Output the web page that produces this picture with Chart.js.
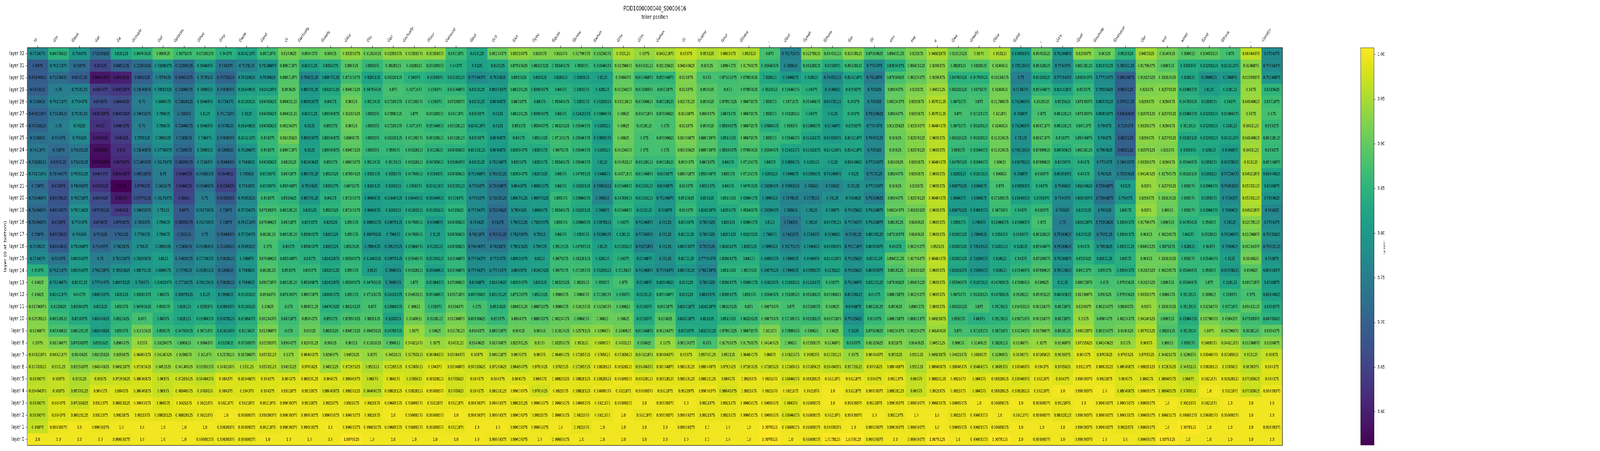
<!DOCTYPE html>
<html>
<head>
<meta charset="utf-8">
<script src="https://cdn.jsdelivr.net/npm/chart.js"></script>
<style>
html, body { margin: 0; padding: 0; background: #ffffff; overflow: hidden; }
#wrap { position: absolute; left: 0; top: 0; width: 6000px; height: 1155px; transform-origin: 0 0; }
#main { position: absolute; left: 0; top: 0; }
#cbar { position: absolute; left: 5000px; top: 0; }
</style>
</head>
<body>
<div id="wrap">
  <canvas id="main" width="6000" height="1155"></canvas>
  <canvas id="cbar" width="260" height="1155"></canvas>
</div>
<script>
// ---------------- DATA ----------------
const chartTitle = 'POD1000000040_S0000616';
const xTitle = 'token position';
const yTitle = 'layer (0 at bottom)';
const colorbarTitle = 'score';

const tokens = ['to','Ġto','Ġlook','Ġat','Ġa','Ġcouple','Ġof','Ġplaces','Ġthat','Ġmy',
  'Ġwife','Ġand','Ġi','Ġactually','Ġreally','Ġlike','Ġto','Ġgo','Ġactually','Ġtour',
  'Ġaround','Ġbut',"Ġi'll",'Ġlet','Ġyou','Ġguys','Ġknow','Ġwhen',"Ġi'm","Ġi'm",
  'Ġwhen','Ġi','Ġcome','Ġout','Ġthere',',','Ġbut','Ġyeah','Ġthere','Ġin',
  'Ġt','enn','ese','e','Ġwe','Ġreally','Ġlike','Ġalot',',',"Ġit's",
  'Ġjust','Ġoutside','Ġnational','Ġbr','ent','wood','Ġand','Ġfrank',',','<|end|>'];

const layerNames = ['layer 0','layer 1','layer 2','layer 3','layer 4','layer 5','layer 6','layer 7',
  'layer 8','layer 9','layer 10','layer 11','layer 12','layer 13','layer 14','layer 15','layer 16',
  'layer 17','layer 18','layer 19','layer 20','layer 21','layer 22','layer 23','layer 24','layer 25',
  'layer 26','layer 27','layer 28','layer 29','layer 30','layer 31','layer 32'];

const colorbarTicks = [0.60, 0.65, 0.70, 0.75, 0.80, 0.85, 0.90, 0.95, 1.00];

const layer32 = [0.7734375,0.84765625,0.796875,0.72265625,0.828125,0.84765625,0.890625,0.8671875,0.87109375,0.84375,0.82421875,0.8671875,0.9140625,0.8984375,0.90625,0.93359375,0.91015625,0.93359375,0.93359375,0.93359375,
  0.8671875,0.828125,0.90234375,0.93359375,0.921875,0.921875,0.91796875,0.90234375,0.953125,0.9375,0.94921875,0.96875,0.953125,0.9609375,0.953125,0.875,0.76171875,0.92578125,0.89453125,0.92578125,
  0.87890625,0.89453125,0.921875,0.94921875,0.91015625,0.9375,0.953125,0.80859375,0.89453125,0.79296875,0.9296875,0.90625,0.8515625,0.9453125,0.9140625,0.890625,0.89453125,0.875,0.96484375,0.7734375];
const layer31 = [0.6875,0.76171875,0.71875,0.65625,0.6953125,0.72265625,0.79296875,0.72265625,0.8046875,0.734375,0.7578125,0.79296875,0.88671875,0.8203125,0.8359375,0.890625,0.859375,0.8828125,0.8828125,0.87109375,
  0.84375,0.8125,0.828125,0.87890625,0.86328125,0.85546875,0.859375,0.85546875,0.91796875,0.89453125,0.91015625,0.94140625,0.90625,0.8984375,0.91796875,0.85546875,0.765625,0.86328125,0.8359375,0.86328125,
  0.7734375,0.83984375,0.89453125,0.9296875,0.8828125,0.8828125,0.9140625,0.78515625,0.86328125,0.7734375,0.86328125,0.83203125,0.76953125,0.91796875,0.890625,0.8359375,0.83203125,0.82421875,0.9296875,0.77734375];
const layer30 = [0.69140625,0.72265625,0.6953125,0.58984375,0.6015625,0.6953125,0.7578125,0.69921875,0.7578125,0.70703125,0.78515625,0.7890625,0.88671875,0.76953125,0.80078125,0.87109375,0.8203125,0.86328125,0.84375,0.8359375,
  0.83203125,0.77734375,0.7890625,0.8515625,0.828125,0.828125,0.8203125,0.8125,0.8984375,0.85546875,0.85546875,0.921875,0.875,0.87109375,0.87890625,0.828125,0.8046875,0.828125,0.76953125,0.82421875,
  0.7421875,0.87890625,0.90234375,0.9296875,0.84765625,0.84765625,0.90234375,0.75,0.83203125,0.77734375,0.83984375,0.77734375,0.69921875,0.91015625,0.91015625,0.828125,0.7890625,0.796875,0.93359375,0.79296875];
const layer29 = [0.6953125,0.75,0.7578125,0.6484375,0.63671875,0.73046875,0.78515625,0.73046875,0.7890625,0.74609375,0.81640625,0.82421875,0.890625,0.80078125,0.83203125,0.89453125,0.84765625,0.875,0.8671875,0.859375,
  0.85546875,0.8203125,0.80859375,0.86328125,0.83984375,0.84375,0.8359375,0.828125,0.90234375,0.87109375,0.8671875,0.921875,0.890625,0.875,0.87890625,0.8515625,0.85546875,0.84375,0.7890625,0.8359375,
  0.765625,0.8984375,0.921875,0.9453125,0.86328125,0.8671875,0.9140625,0.7734375,0.85546875,0.82421875,0.859375,0.78515625,0.6953125,0.921875,0.92578125,0.83984375,0.8125,0.828125,0.9375,0.8515625];
const layer28 = [0.7265625,0.76171875,0.7734375,0.671875,0.6640625,0.75,0.8046875,0.73828125,0.8046875,0.7734375,0.83203125,0.84765625,0.89453125,0.80859375,0.84375,0.90625,0.8515625,0.87109375,0.87109375,0.859375,
  0.87109375,0.8203125,0.8046875,0.8671875,0.84375,0.85546875,0.8359375,0.83203125,0.91015625,0.87890625,0.86328125,0.92578125,0.890625,0.87890625,0.88671875,0.859375,0.8671875,0.85546875,0.80078125,0.84375,
  0.765625,0.90234375,0.9296875,0.95703125,0.8671875,0.875,0.91796875,0.79296875,0.8828125,0.8515625,0.87109375,0.80078125,0.70703125,0.9296875,0.9296875,0.84765625,0.8359375,0.84375,0.94140625,0.8671875];
const layer27 = [0.69921875,0.73828125,0.7578125,0.63671875,0.66015625,0.74609375,0.796875,0.734375,0.8125,0.76171875,0.8125,0.84765625,0.89453125,0.8203125,0.85546875,0.91015625,0.859375,0.87890625,0.875,0.87109375,
  0.8671875,0.8359375,0.8125,0.86328125,0.83984375,0.84375,0.82421875,0.83984375,0.90625,0.88671875,0.87890625,0.9296875,0.8984375,0.8671875,0.88671875,0.859375,0.86328125,0.84375,0.8125,0.84375,
  0.75390625,0.8984375,0.9296875,0.95703125,0.875,0.87109375,0.921875,0.796875,0.875,0.86328125,0.87109375,0.80859375,0.69140625,0.92578125,0.92578125,0.83984375,0.83203125,0.83984375,0.9375,0.875];
const layer26 = [0.70703125,0.75,0.78125,0.625,0.6484375,0.75,0.796875,0.73046875,0.8046875,0.7578125,0.81640625,0.84765625,0.90234375,0.8125,0.859375,0.90625,0.859375,0.87109375,0.8671875,0.85546875,
  0.86328125,0.82421875,0.8125,0.859375,0.85546875,0.86328125,0.85546875,0.8203125,0.90625,0.8828125,0.875,0.921875,0.890625,0.85546875,0.88671875,0.83984375,0.859375,0.83984375,0.8046875,0.8359375,
  0.7734375,0.91015625,0.93359375,0.96484375,0.8671875,0.86328125,0.9140625,0.79296875,0.88671875,0.86328125,0.8671875,0.796875,0.7109375,0.93359375,0.9296875,0.8515625,0.83203125,0.828125,0.9453125,0.859375];
const layer25 = [0.7265625,0.734375,0.765625,0.6015625,0.640625,0.7578125,0.7890625,0.7265625,0.796875,0.74609375,0.82421875,0.859375,0.91015625,0.80859375,0.85546875,0.8984375,0.859375,0.86328125,0.87109375,0.86328125,
  0.86328125,0.8359375,0.8046875,0.84375,0.8515625,0.87109375,0.85546875,0.80859375,0.90625,0.875,0.87890625,0.91796875,0.88671875,0.8515625,0.88671875,0.859375,0.85546875,0.82421875,0.80859375,0.82421875,
  0.76953125,0.90625,0.92578125,0.9609375,0.86328125,0.86328125,0.91015625,0.78125,0.88671875,0.859375,0.85546875,0.796875,0.6953125,0.9296875,0.92578125,0.83203125,0.83203125,0.82421875,0.94140625,0.86328125];
const layer24 = [0.7421875,0.71875,0.73828125,0.578125,0.625,0.73046875,0.77734375,0.7109375,0.7890625,0.7265625,0.79296875,0.859375,0.88671875,0.8125,0.85546875,0.89453125,0.859375,0.859375,0.86328125,0.8515625,
  0.84765625,0.83203125,0.8046875,0.83984375,0.8359375,0.8671875,0.85546875,0.8203125,0.90234375,0.875,0.875,0.91015625,0.88671875,0.85546875,0.87890625,0.85546875,0.82421875,0.82421875,0.82421875,0.82421875,
  0.765625,0.90625,0.92578125,0.9609375,0.859375,0.85546875,0.91015625,0.78515625,0.87890625,0.84765625,0.86328125,0.7890625,0.6953125,0.92578125,0.921875,0.8359375,0.828125,0.8046875,0.9453125,0.859375];
const layer23 = [0.73828125,0.6953125,0.73828125,0.57421875,0.6171875,0.71484375,0.76171875,0.68359375,0.7734375,0.71484375,0.7890625,0.84765625,0.8828125,0.81640625,0.859375,0.88671875,0.8515625,0.8515625,0.86328125,0.84765625,
  0.83984375,0.8203125,0.79296875,0.8359375,0.8359375,0.85546875,0.85546875,0.8125,0.89453125,0.86328125,0.86328125,0.8984375,0.8671875,0.84375,0.87109375,0.84375,0.80859375,0.8203125,0.8125,0.81640625,
  0.77734375,0.9140625,0.9296875,0.96484375,0.84765625,0.85546875,0.90625,0.80078125,0.87890625,0.8359375,0.84375,0.7734375,0.74609375,0.93359375,0.9296875,0.85546875,0.8359375,0.80078125,0.953125,0.85546875];
const layer22 = [0.76171875,0.71484375,0.76953125,0.6484375,0.60546875,0.69921875,0.75,0.6484375,0.74609375,0.6640625,0.765625,0.8359375,0.8671875,0.80078125,0.8515625,0.87890625,0.8359375,0.8359375,0.84765625,0.8359375,
  0.84765625,0.79296875,0.76953125,0.83984375,0.8203125,0.84375,0.84765625,0.8046875,0.88671875,0.85546875,0.8359375,0.88671875,0.85546875,0.859375,0.87109375,0.8203125,0.8046875,0.80859375,0.79296875,0.8125,
  0.7578125,0.8984375,0.9296875,0.9609375,0.8203125,0.83203125,0.890625,0.796875,0.859375,0.80859375,0.84375,0.765625,0.75390625,0.94140625,0.91796875,0.86328125,0.8203125,0.77734375,0.94921875,0.81640625];
const layer21 = [0.71875,0.671875,0.74609375,0.6328125,0.5625,0.6796875,0.7421875,0.6484375,0.73046875,0.65234375,0.7734375,0.8359375,0.85546875,0.7890625,0.8359375,0.8671875,0.8203125,0.8203125,0.8359375,0.82421875,
  0.83203125,0.7734375,0.73046875,0.8046875,0.80859375,0.84375,0.83203125,0.76953125,0.85546875,0.83203125,0.8046875,0.859375,0.8359375,0.84375,0.84765625,0.79296875,0.76953125,0.765625,0.765625,0.78125,
  0.77734375,0.90625,0.921875,0.9609375,0.80078125,0.8046875,0.875,0.80859375,0.84375,0.7890625,0.81640625,0.73046875,0.8125,0.9375,0.92578125,0.859375,0.83984375,0.76953125,0.95703125,0.8046875];
const layer20 = [0.73046875,0.67578125,0.76171875,0.6640625,0.59375,0.67578125,0.76171875,0.65625,0.75,0.68359375,0.76953125,0.859375,0.8515625,0.80078125,0.84375,0.87109375,0.8046875,0.81640625,0.81640625,0.81640625,
  0.8359375,0.7734375,0.73828125,0.80078125,0.80078125,0.859375,0.83984375,0.765625,0.84765625,0.83203125,0.79296875,0.8515625,0.828125,0.8515625,0.83984375,0.7890625,0.7578125,0.7578125,0.78125,0.7890625,
  0.75390625,0.8984375,0.92578125,0.96484375,0.8046875,0.8046875,0.87109375,0.81640625,0.8359375,0.7734375,0.80859375,0.73046875,0.796875,0.9296875,0.91015625,0.859375,0.8359375,0.7734375,0.95703125,0.7890625];
const layer19 = [0.71484375,0.68359375,0.78515625,0.67578125,0.640625,0.74609375,0.78125,0.6875,0.76171875,0.71875,0.77734375,0.87109375,0.86328125,0.828125,0.8515625,0.87109375,0.8046875,0.8203125,0.83203125,0.83203125,
  0.8515625,0.77734375,0.72265625,0.7890625,0.8046875,0.85546875,0.83203125,0.796875,0.85546875,0.8203125,0.796875,0.859375,0.82421875,0.8359375,0.85546875,0.79296875,0.765625,0.78125,0.796875,0.78515625,
  0.79296875,0.90234375,0.91015625,0.9609375,0.80078125,0.80859375,0.8671875,0.84375,0.859375,0.765625,0.8203125,0.765625,0.84375,0.9375,0.90625,0.859375,0.83984375,0.7890625,0.94921875,0.765625];
const layer18 = [0.71484375,0.671875,0.7734375,0.671875,0.6796875,0.7421875,0.796875,0.68359375,0.76171875,0.71875,0.76171875,0.87890625,0.8671875,0.8359375,0.828125,0.859375,0.80859375,0.80078125,0.84765625,0.8046875,
  0.84765625,0.765625,0.71875,0.76953125,0.79296875,0.859375,0.83984375,0.80078125,0.84375,0.79296875,0.78125,0.8359375,0.7890625,0.828125,0.83984375,0.8125,0.734375,0.78125,0.80078125,0.77734375,
  0.79296875,0.8828125,0.9140625,0.9609375,0.8359375,0.796875,0.83984375,0.83984375,0.875,0.75,0.82421875,0.75390625,0.83984375,0.91796875,0.890625,0.84765625,0.859375,0.78125,0.92578125,0.7734375];
const layer17 = [0.71875,0.67578125,0.765625,0.703125,0.703125,0.7734375,0.796875,0.703125,0.75,0.71484375,0.77734375,0.8828125,0.86328125,0.83984375,0.8203125,0.859375,0.80078125,0.796875,0.84765625,0.8125,
  0.84765625,0.7421875,0.70703125,0.76171875,0.78125,0.84375,0.8359375,0.79296875,0.828125,0.77734375,0.78125,0.8203125,0.7890625,0.8203125,0.83203125,0.796875,0.7421875,0.7734375,0.7890625,0.7578125,
  0.80078125,0.87109375,0.9140625,0.9609375,0.83203125,0.7890625,0.8359375,0.8359375,0.86328125,0.75390625,0.8203125,0.7578125,0.83984375,0.90625,0.90234375,0.84375,0.8515625,0.79296875,0.91796875,0.78515625];
const layer16 = [0.7578125,0.69140625,0.79296875,0.7109375,0.7421875,0.78125,0.7890625,0.7265625,0.75390625,0.72265625,0.76953125,0.875,0.84375,0.83984375,0.8203125,0.8515625,0.7890625,0.78515625,0.83984375,0.8203125,
  0.84765625,0.74609375,0.7421875,0.78515625,0.796875,0.8515625,0.84765625,0.8125,0.83203125,0.76171875,0.78125,0.80859375,0.7578125,0.82421875,0.8203125,0.7890625,0.76171875,0.7890625,0.80859375,0.76171875,
  0.80859375,0.84375,0.90234375,0.953125,0.83203125,0.78515625,0.8203125,0.828125,0.85546875,0.75390625,0.84375,0.7890625,0.83203125,0.89453125,0.8671875,0.828125,0.84375,0.7890625,0.90234375,0.76953125];
const layer15 = [0.7734375,0.734375,0.80859375,0.75,0.76171875,0.79296875,0.8125,0.74609375,0.77734375,0.73828125,0.796875,0.87890625,0.85546875,0.84375,0.82421875,0.85546875,0.81640625,0.80078125,0.85546875,0.83203125,
  0.85546875,0.77734375,0.7734375,0.80859375,0.8125,0.8671875,0.86328125,0.828125,0.84375,0.8046875,0.78125,0.8203125,0.77734375,0.83984375,0.84375,0.80859375,0.7890625,0.8046875,0.82421875,0.78515625,
  0.8203125,0.89453125,0.91796875,0.96484375,0.83203125,0.79296875,0.828125,0.84375,0.87109375,0.79296875,0.8515625,0.8203125,0.84375,0.90625,0.91015625,0.859375,0.85546875,0.8125,0.9140625,0.796875];
const layer14 = [0.84375,0.76171875,0.80859375,0.76171875,0.78515625,0.80078125,0.8046875,0.7578125,0.76953125,0.7265625,0.7890625,0.8828125,0.859375,0.859375,0.83203125,0.859375,0.8125,0.7890625,0.86328125,0.81640625,
  0.85546875,0.77734375,0.77734375,0.8046875,0.81640625,0.8671875,0.87109375,0.83203125,0.8515625,0.79296875,0.77734375,0.80078125,0.76171875,0.8515625,0.8515625,0.80078125,0.7890625,0.80859375,0.8203125,0.78515625,
  0.80859375,0.8828125,0.91015625,0.9609375,0.82421875,0.79296875,0.828125,0.85546875,0.87890625,0.78515625,0.8671875,0.859375,0.83984375,0.91015625,0.90234375,0.85546875,0.859375,0.80078125,0.890625,0.80859375];
const layer13 = [0.90625,0.79296875,0.8203125,0.77734375,0.80078125,0.796875,0.82421875,0.77734375,0.78515625,0.73828125,0.7890625,0.88671875,0.86328125,0.85546875,0.82421875,0.85546875,0.84765625,0.7890625,0.875,0.83984375,
  0.87890625,0.8046875,0.81640625,0.83984375,0.828125,0.86328125,0.8828125,0.859375,0.875,0.8046875,0.81640625,0.828125,0.7890625,0.83984375,0.83984375,0.82421875,0.83203125,0.82421875,0.859375,0.79296875,
  0.83203125,0.87890625,0.89453125,0.9609375,0.85546875,0.83203125,0.84765625,0.87890625,0.890625,0.8125,0.88671875,0.875,0.87890625,0.91015625,0.890625,0.85546875,0.875,0.828125,0.88671875,0.8046875];
const layer12 = [0.90625,0.82421875,0.84375,0.80859375,0.828125,0.83984375,0.84375,0.80078125,0.8125,0.7890625,0.83203125,0.8984375,0.87109375,0.88671875,0.83984375,0.859375,0.87109375,0.82421875,0.89453125,0.85546875,
  0.88671875,0.84765625,0.83203125,0.87109375,0.8515625,0.8984375,0.8984375,0.87109375,0.859375,0.8203125,0.85546875,0.828125,0.8046875,0.83984375,0.859375,0.85546875,0.86328125,0.86328125,0.87890625,0.80078125,
  0.84375,0.88671875,0.90234375,0.9609375,0.8671875,0.86328125,0.84765625,0.8828125,0.89453125,0.84765625,0.91796875,0.890625,0.87890625,0.93359375,0.8984375,0.8515625,0.890625,0.859375,0.875,0.81640625];
const layer11 = [0.91796875,0.8515625,0.83984375,0.828125,0.859375,0.84765625,0.859375,0.828125,0.8359375,0.80859375,0.83203125,0.90625,0.875,0.89453125,0.84765625,0.86328125,0.875,0.83984375,0.90625,0.859375,
  0.8984375,0.875,0.8515625,0.89453125,0.88671875,0.8984375,0.91015625,0.90234375,0.890625,0.8359375,0.8671875,0.82421875,0.82421875,0.86328125,0.875,0.88671875,0.875,0.87109375,0.890625,0.8046875,
  0.86328125,0.890625,0.8984375,0.9609375,0.86328125,0.875,0.8515625,0.89453125,0.90234375,0.8671875,0.9296875,0.90234375,0.8984375,0.9375,0.91015625,0.8515625,0.90234375,0.8671875,0.89453125,0.8359375];
const layer10 = [0.92578125,0.86328125,0.8359375,0.81640625,0.8515625,0.875,0.84375,0.828125,0.83984375,0.80078125,0.83984375,0.90234375,0.8671875,0.8984375,0.859375,0.87890625,0.8828125,0.8203125,0.9140625,0.8828125,
  0.91796875,0.87890625,0.859375,0.8984375,0.88671875,0.90234375,0.8984375,0.90625,0.90625,0.8359375,0.890625,0.82421875,0.828125,0.8515625,0.86328125,0.88671875,0.87109375,0.86328125,0.88671875,0.78515625,
  0.859375,0.88671875,0.88671875,0.94921875,0.859375,0.84375,0.8515625,0.88671875,0.90234375,0.8671875,0.9375,0.8984375,0.90234375,0.94140625,0.890625,0.83984375,0.91796875,0.8984375,0.87109375,0.84765625];
const layer9 = [0.9296875,0.87890625,0.86328125,0.81640625,0.859375,0.91015625,0.859375,0.84765625,0.8671875,0.82421875,0.8515625,0.91796875,0.875,0.90625,0.8828125,0.89453125,0.89453125,0.84765625,0.9375,0.90625,
  0.92578125,0.8984375,0.88671875,0.90625,0.90625,0.91015625,0.92578125,0.9296875,0.9140625,0.85546875,0.90234375,0.8359375,0.83203125,0.87890625,0.88671875,0.921875,0.87890625,0.890625,0.90625,0.8125,
  0.87890625,0.90234375,0.90234375,0.94140625,0.875,0.87109375,0.8671875,0.90234375,0.91796875,0.8828125,0.94921875,0.90234375,0.9140625,0.95703125,0.8828125,0.8515625,0.9375,0.91796875,0.8828125,0.8984375];
const layer8 = [0.9375,0.91796875,0.87109375,0.8515625,0.8984375,0.9375,0.90234375,0.890625,0.8984375,0.8515625,0.87109375,0.93359375,0.8984375,0.92578125,0.90625,0.90625,0.91015625,0.890625,0.94921875,0.9375,
  0.9453125,0.9140625,0.91796875,0.92578125,0.9375,0.93359375,0.953125,0.9609375,0.9453125,0.890625,0.9375,0.90234375,0.875,0.91796875,0.91796875,0.94140625,0.90625,0.93359375,0.9296875,0.859375,
  0.91015625,0.921875,0.9140625,0.9453125,0.90625,0.9140625,0.8828125,0.9296875,0.9375,0.9296875,0.97265625,0.94140625,0.9375,0.96875,0.90625,0.859375,0.9609375,0.94921875,0.91796875,0.9296875];
const layer7 = [0.94921875,0.94921875,0.9140625,0.91015625,0.9296875,0.96484375,0.94140625,0.9296875,0.921875,0.92578125,0.91796875,0.95703125,0.9375,0.96484375,0.9296875,0.9453125,0.9375,0.9453125,0.95703125,0.96484375,
  0.96484375,0.96875,0.94921875,0.9609375,0.96875,0.96484375,0.97265625,0.9765625,0.97265625,0.94921875,0.96484375,0.96875,0.95703125,0.953125,0.96484375,0.96875,0.94921875,0.9609375,0.95703125,0.9375,
  0.96484375,0.953125,0.953125,0.94921875,0.94921875,0.9609375,0.9296875,0.9609375,0.97265625,0.9609375,0.984375,0.9765625,0.9765625,0.9765625,0.94921875,0.9296875,0.98046875,0.97265625,0.953125,0.96875];
const layer6 = [0.95703125,0.953125,0.93359375,0.94140625,0.94921875,0.97265625,0.9453125,0.94140625,0.93359375,0.94921875,0.953125,0.95703125,0.9453125,0.9765625,0.9453125,0.97265625,0.953125,0.97265625,0.97265625,0.984375,
  0.98046875,0.97265625,0.97265625,0.96484375,0.9765625,0.9765625,0.97265625,0.98828125,0.98828125,0.96484375,0.98046875,0.98828125,0.98046875,0.9765625,0.97265625,0.97265625,0.97265625,0.97265625,0.96484375,0.95703125,
  0.9765625,0.98046875,0.953125,0.98046875,0.98046875,0.96484375,0.9609375,0.98046875,0.984375,0.9765625,0.9921875,0.98828125,0.98046875,0.98828125,0.97265625,0.9453125,0.98828125,0.9765625,0.9609375,0.984375];
const layer5 = [0.9609375,0.96875,0.953125,0.96875,0.97265625,0.98046875,0.96875,0.97265625,0.96484375,0.984375,0.98046875,0.984375,0.984375,0.98828125,0.984375,0.98046875,0.96875,0.984375,0.9765625,0.98828125,
  0.9765625,0.984375,0.984375,0.984375,0.984375,0.98828125,0.98828125,0.98828125,0.99609375,0.98828125,0.98828125,0.98828125,0.98828125,0.984375,0.9921875,0.9921875,0.98046875,0.98828125,0.9921875,0.9921875,
  0.984375,0.9921875,0.96875,0.98828125,0.9921875,0.984375,0.98828125,0.98046875,0.9921875,0.984375,0.99609375,0.9921875,0.984375,0.984375,0.98046875,0.96875,0.9921875,0.98828125,0.97265625,0.984375];
const layer4 = [0.96484375,0.96875,0.95703125,0.984375,0.984375,0.98046875,0.96875,0.98046875,0.9765625,0.984375,0.984375,0.984375,0.9921875,0.9921875,0.98046875,0.98828125,0.96484375,0.98828125,0.98828125,0.99609375,
  0.9765625,0.984375,0.98828125,0.99609375,0.9765625,0.9921875,0.98828125,0.99609375,0.9921875,0.99609375,0.9921875,0.9921875,0.99609375,0.98046875,0.9921875,0.9921875,0.9921875,0.9921875,1.0,0.9921875,
  0.99609375,0.98828125,0.96875,0.9921875,0.9921875,0.984375,0.98828125,0.98828125,0.9921875,1.0,0.99609375,1.0,0.98046875,0.99609375,0.98046875,0.9765625,1.0,0.9921875,0.97265625,0.99609375];
const layer3 = [0.9609375,0.984375,0.97265625,0.9921875,0.98828125,0.99609375,0.984375,0.9921875,0.9921875,0.9921875,0.9921875,0.9921875,0.99609375,0.9921875,0.9921875,0.9921875,0.9921875,0.99609375,0.99609375,0.9921875,
  0.9921875,0.99609375,0.99609375,0.98828125,0.99609375,0.99609375,0.99609375,0.9921875,0.99609375,1.0,0.99609375,1.0,0.9921875,0.9921875,0.99609375,0.99609375,0.984375,0.99609375,1.0,0.99609375,
  0.9921875,0.99609375,0.99609375,0.99609375,0.99609375,1.0,0.99609375,1.0,0.99609375,0.9921875,1.0,0.99609375,0.99609375,0.99609375,1.0,0.9921875,0.9921875,1.0,1.0,1.0];
const layer2 = [0.9609375,0.984375,0.98828125,0.9921875,0.9921875,0.9921875,0.98828125,0.98828125,0.9921875,1.0,0.99609375,0.99609375,0.99609375,0.99609375,0.99609375,0.99609375,0.9921875,1.0,0.99609375,0.99609375,
  1.0,0.99609375,0.99609375,0.99609375,0.9921875,0.99609375,0.9921875,0.9921875,1.0,0.9921875,0.99609375,0.99609375,0.9921875,0.9921875,0.99609375,0.99609375,0.98046875,0.99609375,0.9921875,0.99609375,
  1.0,0.9921875,1.0,1.0,0.9921875,0.99609375,1.0,0.9921875,0.99609375,0.98828125,0.99609375,0.99609375,0.99609375,0.99609375,0.99609375,0.99609375,0.99609375,0.99609375,1.0,1.0];
const layer1 = [0.96875,0.99609375,1.0,0.99609375,1.0,1.0,1.0,1.0,1.0,0.99609375,0.99609375,0.9921875,0.99609375,0.99609375,1.0,0.99609375,0.99609375,0.99609375,0.99609375,0.99609375,
  0.9921875,1.0,1.0,0.99609375,0.99609375,1.0,0.9921875,1.0,1.0,1.0,1.0,0.99609375,1.0,1.0,1.0,1.0078125,0.99609375,0.99609375,0.99609375,1.0,
  0.99609375,0.99609375,0.99609375,1.0,0.99609375,0.99609375,0.99609375,1.0,1.0,1.0,0.99609375,0.99609375,0.9921875,0.99609375,1.0,1.0078125,1.0,1.0,1.0,0.99609375];
const layer0 = [1.0,1.0,1.0,1.0,0.99609375,1.0,1.0,1.0,0.99609375,0.99609375,0.99609375,1.0,1.0,1.0,1.0,1.0078125,1.0,1.0,1.0,1.0,
  1.0,1.0,0.99609375,0.99609375,1.0,0.99609375,1.0,1.0,1.0,1.0,1.0,1.0,1.0,1.0,1.0,1.0078125,1.0,0.99609375,1.0078125,1.0078125,
  0.99609375,1.0,0.99609375,1.0078125,1.0,0.99609375,1.0078125,1.0,0.99609375,1.0,0.99609375,1.0,1.0,0.99609375,1.0078125,1.0,1.0,1.0,1.0,1.0];

const layerRows = [layer0, layer1, layer2, layer3, layer4, layer5, layer6, layer7, layer8, layer9, layer10,
  layer11, layer12, layer13, layer14, layer15, layer16, layer17, layer18, layer19, layer20, layer21, layer22,
  layer23, layer24, layer25, layer26, layer27, layer28, layer29, layer30, layer31, layer32];

// ---------------- FIT 6000-WIDE DESIGN INTO THE ACTUAL VIEWPORT ----------------
(function fitPage() {
  const sx = Math.min(1, window.innerWidth / 6000);
  const sy = Math.min(1, window.innerHeight / 1155);
  document.getElementById('wrap').style.transform = 'scale(' + sx + ',' + sy + ')';
})();

// ---------------- STYLE ----------------
const VIRIDIS = ['#440154','#471365','#482475','#463480','#414487','#3b528b','#355f8d','#2f6c8e','#2a788e','#25848e',
  '#21918c','#1e9c89','#22a884','#2fb47c','#44bf70','#5ec962','#7ad151','#9bd93c','#bddf26','#dfe318','#fde725'];
function hexToRgb(h) { return [parseInt(h.slice(1,3),16), parseInt(h.slice(3,5),16), parseInt(h.slice(5,7),16)]; }
const VIR_RGB = VIRIDIS.map(hexToRgb);
function viridis(t) {
  t = Math.max(0, Math.min(1, t));
  const pos = t * (VIR_RGB.length - 1);
  const i = Math.min(Math.floor(pos), VIR_RGB.length - 2);
  const f = pos - i;
  const a = VIR_RGB[i], b = VIR_RGB[i + 1];
  const c = a.map((v, k) => Math.round(v + (b[k] - v) * f));
  return 'rgb(' + c.join(',') + ')';
}
const allScores = layerRows.flat();
const scoreMin = Math.min(...allScores);
const scoreMax = Math.max(...allScores);
function fmt(v) { return Number.isInteger(v) ? v.toFixed(1) : String(v); }

const FONT = 'DejaVu Sans';
Chart.defaults.font.family = FONT;
Chart.defaults.color = '#000';

const datasets = layerRows.map((row, L) => ({
  label: layerNames[L],
  data: row.map(() => [L, L + 1]),
  scores: row,
  backgroundColor: row.map(v => viridis((v - scoreMin) / (scoreMax - scoreMin))),
  borderWidth: 0,
  barPercentage: 1,
  categoryPercentage: 1,
  grouped: false
}));

const cellTextPlugin = {
  id: 'cellText',
  afterDatasetsDraw(chart) {
    const ctx = chart.ctx;
    ctx.save();
    ctx.font = '10.8px "' + FONT + '"';
    ctx.fillStyle = '#000';
    ctx.textAlign = 'center';
    ctx.textBaseline = 'middle';
    chart.data.datasets.forEach((ds, di) => {
      const meta = chart.getDatasetMeta(di);
      meta.data.forEach((el, j) => {
        const p = el.getProps(['x', 'y', 'base'], true);
        ctx.fillText(fmt(ds.scores[j]), p.x, (p.y + p.base) / 2 + 0.5);
      });
    });
    const ca = chart.chartArea;
    ctx.strokeStyle = '#000';
    ctx.lineWidth = 1.2;
    ctx.strokeRect(ca.left, ca.top, ca.right - ca.left, ca.bottom - ca.top);
    ctx.restore();
  }
};

const tokenLabelPlugin = {
  id: 'tokenLabels',
  afterDraw(chart) {
    const ctx = chart.ctx;
    const xs = chart.scales.x;
    const top = chart.chartArea.top;
    const size = 11.1;
    const d = 0.236 * size;
    const pad = 11;
    const k = Math.SQRT1_2;
    ctx.save();
    ctx.font = size + 'px "' + FONT + '"';
    ctx.fillStyle = '#000';
    ctx.textAlign = 'right';
    ctx.textBaseline = 'alphabetic';
    tokens.forEach((t, i) => {
      const x = xs.getPixelForTick(i);
      const w = ctx.measureText(t).width;
      ctx.save();
      ctx.translate(x - k * d, top - pad - k * (w + d));
      ctx.rotate(-Math.PI / 4);
      ctx.fillText(t, 0, 0);
      ctx.restore();
    });
    ctx.restore();
  }
};

new Chart(document.getElementById('main'), {
  type: 'bar',
  data: { labels: tokens, datasets: datasets },
  options: {
    responsive: false,
    devicePixelRatio: 1,
    animation: false,
    layout: { padding: { left: 0, right: 1191, top: 0, bottom: 14 } },
    plugins: {
      legend: { display: false },
      tooltip: { enabled: false },
      title: {
        display: true, text: chartTitle, fullSize: false, color: '#000',
        font: { size: 16.7, weight: 'normal' },
        padding: { top: 13, bottom: 0 }
      }
    },
    scales: {
      x: {
        type: 'category',
        position: 'top',
        offset: true,
        grid: { display: true, offset: false, drawOnChartArea: false, drawTicks: true, tickLength: 5, color: '#000', lineWidth: 1 },
        border: { display: false },
        ticks: { display: false },
        title: { display: true, text: xTitle, color: '#000', font: { size: 13.9 }, padding: { top: 2.6, bottom: 0 } },
        afterFit: s => { s.height = 88.96; }
      },
      y: {
        type: 'linear',
        position: 'left',
        min: 0,
        max: layerNames.length,
        afterBuildTicks: s => { s.ticks = layerNames.map((_, i) => ({ value: i + 0.5 })); },
        ticks: { autoSkip: false, callback: v => layerNames[Math.floor(v)], color: '#000', font: { size: 13.9 }, padding: 6 },
        grid: { drawOnChartArea: false, drawTicks: true, tickLength: 5, color: '#000', lineWidth: 1 },
        border: { display: false },
        title: { display: true, text: yTitle, color: '#000', font: { size: 13.9 }, padding: { top: 12, bottom: 0 } },
        afterFit: s => { s.width = 102; }
      }
    }
  },
  plugins: [cellTextPlugin, tokenLabelPlugin]
});

// ---------------- COLORBAR ----------------
const scoreLabelPlugin = {
  id: 'scoreLabel',
  afterDraw(chart) {
    const ctx = chart.ctx;
    const ys = chart.scales.y;
    const ca = chart.chartArea;
    ctx.save();
    ctx.font = '12.5px "' + FONT + '"';
    ctx.fillStyle = '#000';
    ctx.textAlign = 'center';
    ctx.textBaseline = 'middle';
    ctx.translate(ys.left + 39, (ca.top + ca.bottom) / 2 + 3);
    ctx.rotate(-Math.PI / 2);
    ctx.fillText(colorbarTitle, 0, 0);
    ctx.restore();
  }
};

new Chart(document.getElementById('cbar'), {
  type: 'bar',
  data: {
    labels: [colorbarTitle],
    datasets: [{
      data: [[scoreMin, scoreMax]],
      backgroundColor: (c) => {
        const ca = c.chart.chartArea;
        if (!ca) return VIRIDIS[10];
        const g = c.chart.ctx.createLinearGradient(0, ca.bottom, 0, ca.top);
        VIRIDIS.forEach((col, i) => g.addColorStop(i / (VIRIDIS.length - 1), col));
        return g;
      },
      borderColor: '#000',
      borderWidth: 1,
      borderSkipped: false,
      barPercentage: 1,
      categoryPercentage: 1
    }]
  },
  options: {
    responsive: false,
    devicePixelRatio: 1,
    animation: false,
    layout: { padding: { left: 102, right: 0, top: 122, bottom: 14 } },
    plugins: { legend: { display: false }, tooltip: { enabled: false } },
    scales: {
      x: { display: false },
      y: {
        position: 'right',
        min: scoreMin,
        max: scoreMax,
        afterBuildTicks: s => { s.ticks = colorbarTicks.map(v => ({ value: v })); },
        ticks: { autoSkip: false, callback: v => v.toFixed(2), color: '#000', font: { size: 12.5 }, padding: 7 },
        grid: { drawOnChartArea: false, drawTicks: true, tickLength: 5, color: '#000', lineWidth: 1 },
        border: { display: false },
        afterFit: s => { s.width = 107; }
      }
    }
  },
  plugins: [scoreLabelPlugin]
});
</script>
</body>
</html>
